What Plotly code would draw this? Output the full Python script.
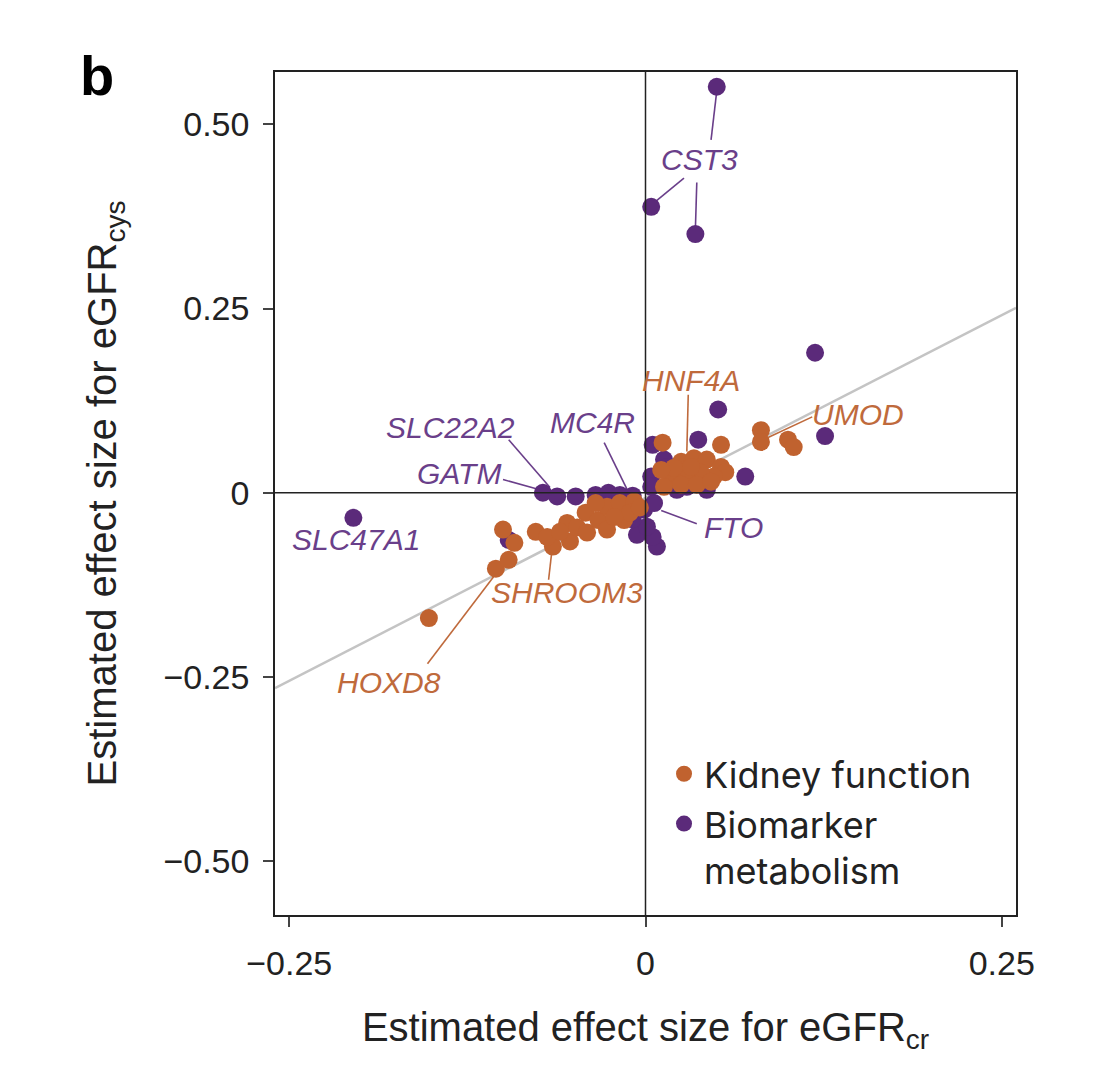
import plotly.graph_objects as go

# Kidney function genes (orange)
kidney_x = [-0.152, -0.105, -0.096, -0.100, -0.092, -0.077, -0.065, -0.069, -0.055, -0.053,
            -0.060, -0.048, -0.042, -0.041, -0.033, -0.027, -0.027, -0.018, -0.015, -0.008,
            -0.011, -0.035, -0.022, -0.004,
            0.012, 0.025, 0.034, 0.043, 0.053, 0.056, 0.048, 0.039, 0.028, 0.018,
            0.013, 0.025, 0.036, 0.046, 0.032, 0.020, 0.011, 0.053,
            0.081, 0.081, 0.100, 0.104]
kidney_y = [-0.170, -0.103, -0.091, -0.050, -0.068, -0.053, -0.073, -0.060, -0.041, -0.066,
            -0.053, -0.047, -0.027, -0.054, -0.037, -0.050, -0.019, -0.014, -0.037, -0.012,
            -0.027, -0.014, -0.033, -0.020,
            0.068, 0.042, 0.047, 0.045, 0.035, 0.028, 0.022, 0.027, 0.024, 0.020,
            0.008, 0.011, 0.011, 0.015, 0.035, 0.034, 0.031, 0.065,
            0.085, 0.069, 0.072, 0.062]

# Biomarker metabolism genes (purple)
bio_x = [0.050, 0.004, 0.035, 0.119, 0.051, 0.126, 0.037, 0.070,
         -0.205, -0.096, 0.008,
         -0.072, -0.062, -0.049, -0.035, -0.026, -0.018, -0.009,
         -0.001, -0.006, 0.005, 0.001, 0.006, -0.009,
         0.005, 0.013, 0.004, 0.015, 0.022, 0.029, 0.043, 0.004]
bio_y = [0.551, 0.388, 0.351, 0.190, 0.113, 0.077, 0.072, 0.022,
         -0.034, -0.064, -0.073,
         0.000, -0.005, -0.005, -0.003, 0.000, -0.003, -0.004,
         -0.023, -0.057, -0.060, -0.046, -0.014, -0.036,
         0.065, 0.045, 0.022, 0.035, 0.004, 0.008, 0.004, 0.008]

# Fitted line
fit_x = [-0.26, 0.26]
fit_y = [-0.265, 0.251]

# Gene labels: text, label x, label y, group, leader segments (x0, y0, x1, y1)
labels = [
    ("CST3", 0.038, 0.452, "bio", [(0.046, 0.479, 0.050, 0.545),
                                   (0.027, 0.427, 0.005, 0.392),
                                   (0.036, 0.421, 0.035, 0.358)]),
    ("HNF4A", 0.032, 0.153, "kid", [(0.030, 0.133, 0.029, 0.056)]),
    ("UMOD", 0.149, 0.106, "kid", [(0.117, 0.103, 0.086, 0.075)]),
    ("MC4R", -0.037, 0.096, "bio", [(-0.029, 0.068, -0.012, 0.001)]),
    ("SLC22A2", -0.137, 0.088, "bio", [(-0.096, 0.072, -0.067, 0.007)]),
    ("GATM", -0.131, 0.026, "bio", [(-0.100, 0.018, -0.076, 0.005)]),
    ("SLC47A1", -0.203, -0.064, "bio", []),
    ("SHROOM3", -0.055, -0.136, "kid", [(-0.068, -0.118, -0.066, -0.084)]),
    ("HOXD8", -0.180, -0.258, "kid", [(-0.153, -0.232, -0.105, -0.110)]),
    ("FTO", 0.062, -0.047, "bio", [(0.036, -0.042, 0.011, -0.024)]),
]

tick_vals_x = [-0.25, 0, 0.25]
tick_text_x = ["\u22120.25", "0", "0.25"]
tick_vals_y = [-0.5, -0.25, 0, 0.25, 0.5]
tick_text_y = ["\u22120.50", "\u22120.25", "0", "0.25", "0.50"]

ORANGE = "#c0622f"
PURPLE = "#5b2a7a"
ORANGE_TXT = "#bf6a3c"
PURPLE_TXT = "#6a3f8a"
FONT = "Liberation Sans"

fig = go.Figure()

fig.add_trace(go.Scatter(x=fit_x, y=fit_y, mode="lines",
                         line=dict(color="#c4c4c4", width=2.5),
                         showlegend=False, hoverinfo="skip"))

# leader lines
for text, lx, ly, grp, segs in labels:
    col = ORANGE_TXT if grp == "kid" else PURPLE_TXT
    for x0, y0, x1, y1 in segs:
        fig.add_trace(go.Scatter(x=[x0, x1], y=[y0, y1], mode="lines",
                                 line=dict(color=col, width=1.6),
                                 showlegend=False, hoverinfo="skip"))

fig.add_trace(go.Scatter(x=bio_x, y=bio_y, mode="markers", name="Biomarker<br>metabolism",
                         marker=dict(color=PURPLE, size=18), legendrank=2))
fig.add_trace(go.Scatter(x=kidney_x, y=kidney_y, mode="markers", name="Kidney function",
                         marker=dict(color=ORANGE, size=18), legendrank=1))

for text, lx, ly, grp, segs in labels:
    fig.add_annotation(x=lx, y=ly, text="<i>%s</i>" % text, showarrow=False,
                       font=dict(family=FONT, size=30,
                                 color=ORANGE_TXT if grp == "kid" else PURPLE_TXT),
                       xanchor="center", yanchor="middle")

# zero lines on top
fig.add_shape(type="line", x0=0, x1=0, y0=0, y1=1, xref="x", yref="paper",
              line=dict(color="#222", width=1.5), layer="above")
fig.add_shape(type="line", x0=0, x1=1, y0=0, y1=0, xref="paper", yref="y",
              line=dict(color="#222", width=1.5), layer="above")

fig.add_annotation(x=-0.266, y=0.956, xref="paper", yref="paper", text="<b>b</b>",
                   showarrow=False, font=dict(family=FONT, size=56, color="black"),
                   xanchor="left", yanchor="bottom")

axis_common = dict(showgrid=False, zeroline=False, showline=True, mirror=True,
                   linecolor="#222", linewidth=1.5, ticks="outside", ticklen=10,
                   tickwidth=1.5, tickcolor="#444", ticklabelstandoff=7,
                   tickfont=dict(family=FONT, size=34, color="#222"))

fig.update_layout(
    width=1104, height=1070,
    margin=dict(l=267, r=96, t=64, b=163),
    paper_bgcolor="white", plot_bgcolor="white",
    xaxis=dict(range=[-0.26, 0.26], tickvals=tick_vals_x, ticktext=tick_text_x,
               title=dict(text="Estimated effect size for eGFR<sub>cr</sub>",
                          font=dict(family=FONT, size=40, color="#222"), standoff=32),
               **axis_common),
    yaxis=dict(range=[-0.573, 0.571], tickvals=tick_vals_y, ticktext=tick_text_y,
               title=dict(text="Estimated effect size for eGFR<sub>cys</sub>",
                          font=dict(family=FONT, size=40, color="#222"), standoff=34),
               **axis_common),
    legend=dict(x=0.525, y=0.203, xanchor="left", yanchor="top",
                font=dict(family="Inter", size=36, color="#222"),
                bgcolor="rgba(0,0,0,0)", valign="top", tracegroupgap=2),
)

fig.write_html("out.html")
